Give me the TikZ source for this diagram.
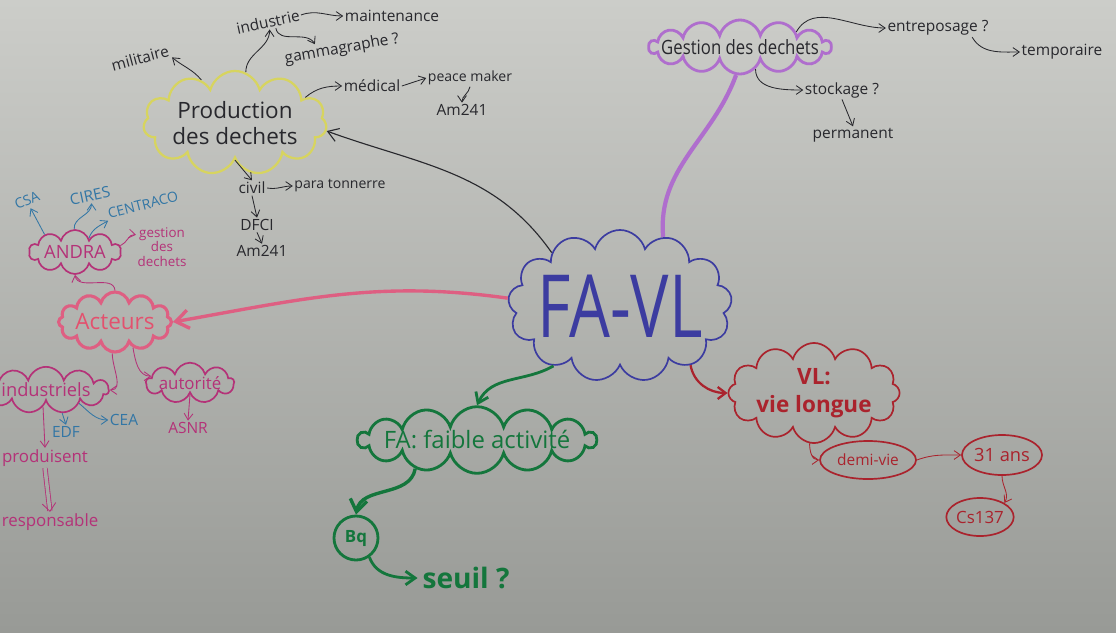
\documentclass[tikz,border=0pt]{standalone}
\usepackage{fontspec}
\setmainfont{Open Sans}
\usetikzlibrary{shapes.symbols,shapes.geometric,arrows.meta}

\definecolor{paperTop}{RGB}{204,205,201}
\definecolor{paperBot}{RGB}{152,154,150}
\definecolor{paperMid}{RGB}{168,170,166}
\definecolor{inkblack}{RGB}{40,40,45}
\definecolor{mainblue}{RGB}{60,60,160}
\definecolor{prodyellow}{RGB}{215,212,95}
\definecolor{gestpurple}{RGB}{175,110,205}
\definecolor{favgreen}{RGB}{20,118,60}
\definecolor{vlred}{RGB}{170,35,45}
\definecolor{actpink}{RGB}{222,95,130}
\definecolor{magink}{RGB}{180,50,120}
\definecolor{ciresblue}{RGB}{50,118,165}

\begin{document}
\begin{tikzpicture}[x=0.025cm, y=-0.025cm,
  cloudbox/.style={cloud, cloud puffs=#1, cloud ignores aspect, draw,
                   line width=1.2pt, inner sep=0pt, align=center},
  cloudbox/.default=11,
  ovalbox/.style={ellipse, draw, line width=1.2pt, inner sep=0pt},
  leaf/.style={font=\fontsize{11}{12}\selectfont, text=inkblack, inner sep=1pt, align=center},
  blueleaf/.style={leaf, text=ciresblue},
  magleaf/.style={leaf, text=magink},
  link/.style={-{Straight Barb[length=1.6mm, width=2.2mm]}, line width=0.6pt, inkblack},
]
  \shade[top color=paperTop, bottom color=paperBot] (0,0) rectangle (1116,632);
  \useasboundingbox (0,0) rectangle (1116,632);

  % centre
  \node[cloudbox=13, draw=mainblue, inner xsep=-7pt, minimum width=5.6cm, minimum height=3.8cm,
        text=mainblue, font=\fontsize{62}{64}\selectfont] (favl) at (620,306)
        {\scalebox{0.74}[1]{FA-VL}};

  % production
  \node[cloudbox, draw=prodyellow, line width=1.6pt, minimum width=4.1cm, minimum height=2.6cm,
        text=inkblack, font=\fontsize{16}{19}\selectfont] (prod) at (235,123) {Production\\des dechets};
  \node[leaf, rotate=15] (mil) at (140,58) {militaire};
  \node[leaf, rotate=12] (indus) at (268,22) {industrie};
  \node[leaf] (maint) at (392,16) {maintenance};
  \node[leaf, rotate=10] (gamma) at (342,49) {gammagraphe ?};
  \node[leaf] (med) at (372,86) {médical};
  \node[leaf, font=\fontsize{10}{12}\selectfont] (peace) at (470,78) {peace maker};
  \node[leaf] (amA) at (462,110) {Am241};
  \node[leaf] (civil) at (252,188) {civil};
  \node[leaf, font=\fontsize{10}{12}\selectfont] (para) at (340,186) {para tonnerre};
  \node[leaf] (dfci) at (257,225) {DFCI};
  \node[leaf] (amB) at (262,251) {Am241};

  \draw[link] (prod.128) to[out=130, in=-40] (mil.south east);
  \draw[link] (prod.78) to[out=90, in=-90] (indus.south);
  \draw[link] (indus.east) to[out=20, in=180] (maint.west);
  \draw[link] (indus.-50) to[out=-80, in=120] (gamma.160);
  \draw[link] (prod.20) to[out=40, in=180] (med.west);
  \draw[link] (med.east) -- (peace.west);
  \draw[link] (peace.south) to[out=-100, in=90] (amA.north);
  \draw[link] (prod.south) -- (civil.north);
  \draw[link] (civil.east) to[out=-10, in=180] (para.west);
  \draw[link] (civil.south) -- (dfci.north);
  \draw[link] (dfci.south) -- (amB.north);
  \draw[link, line width=0.8pt, -{Straight Barb[length=2.6mm, width=3.4mm]}]
    (favl.142) to[out=125, in=-20] (prod.-5);

  % gestion
  \node[cloudbox=14, draw=gestpurple, line width=2pt, inner xsep=-10pt, minimum width=4.3cm,
        minimum height=1.35cm, text=inkblack, font=\fontsize{14}{17}\selectfont] (gest) at (740,47)
        {\scalebox{0.85}[1]{Gestion des dechets}};
  \node[leaf] (entre) at (938,28) {entreposage ?};
  \node[leaf] (temp) at (1062,52) {temporaire};
  \node[leaf] (stock) at (842,90) {stockage ?};
  \node[leaf] (perm) at (853,135) {permanent};

  \draw[link] (gest.15) to[out=60, in=180] (entre.west);
  \draw[link] (entre.-15) to[out=-60, in=180] (temp.west);
  \draw[link] (gest.-55) to[out=-90, in=180] (stock.west);
  \draw[link] (stock.south) -- (perm.north);
  \draw[gestpurple, line width=3pt] (favl.58) to[out=95, in=-110] (gest.-98);

  % acteurs
  \node[cloudbox=12, draw=actpink, line width=2.2pt, minimum width=2.8cm, minimum height=1.5cm,
        text=actpink!85!red, font=\fontsize{16}{19}\selectfont] (act) at (115,322) {Acteurs};
  \node[cloudbox=10, draw=magink, minimum width=2.3cm, minimum height=1.1cm,
        text=magink, font=\fontsize{13}{15}\selectfont] (andra) at (75,252) {ANDRA};
  \node[blueleaf, rotate=22, font=\fontsize{10}{12}\selectfont] (csa) at (27,200) {CSA};
  \node[blueleaf, rotate=12] (cires) at (90,196) {CIRES};
  \node[blueleaf, rotate=14, font=\fontsize{10}{12}\selectfont] (centraco) at (143,205) {CENTRACO};
  \node[magleaf, font=\fontsize{9.5}{10.5}\selectfont] (gdd) at (162,247) {gestion\\des\\dechets};
  \node[cloudbox=11, draw=magink, minimum width=2.75cm, minimum height=1.1cm,
        text=magink, font=\fontsize{13}{15}\selectfont] (indl) at (46,390) {industriels};
  \node[cloudbox=9, draw=magink, minimum width=2cm, minimum height=0.95cm,
        text=magink, font=\fontsize{12}{14}\selectfont] (auto) at (190,383) {autorité};
  \node[blueleaf] (edf) at (66,432) {EDF};
  \node[blueleaf] (cea) at (124,420) {CEA};
  \node[magleaf] (asnr) at (188,428) {ASNR};
  \node[magleaf, font=\fontsize{12}{14}\selectfont] (produ) at (45,458) {produisent};
  \node[magleaf, font=\fontsize{12}{14}\selectfont] (resp) at (50,522) {responsable};

  \draw[link, ciresblue, shorten >=1.5pt] (andra.150) -- (csa.south);
  \draw[link, ciresblue] (andra.92) to[out=95, in=-90] (cires.south);
  \draw[link, ciresblue] (andra.45) to[out=70, in=-150] (centraco.south west);
  \draw[link, magink] (andra.8) to[out=20, in=170] (gdd.155);
  \draw[link, magink] (act.north) to[out=95, in=-80] (andra.south);
  \draw[link, magink] (act.-95) to[out=-90, in=0] (indl.east);
  \draw[link, magink] (act.-55) to[out=-80, in=180] (auto.170);
  \draw[link, ciresblue] (indl.-55) -- (edf.north);
  \draw[link, ciresblue] (indl.-22) to[out=-40, in=180] (cea.west);
  \draw[link, magink] (auto.south) -- (asnr.north);
  \draw[link, magink] (indl.-100) -- (produ.north);
  \draw[magink, line width=0.6pt, double=paperMid, double distance=2.5pt,
        -{Straight Barb[length=2mm, width=3.4mm]}] (produ.south) -- (resp.north);
  \draw[actpink, line width=2.4pt, -{Straight Barb[length=3.2mm, width=4.6mm]}]
    (favl.176) to[out=172, in=10] (act.east);

  % faible activite
  \node[cloudbox=14, draw=favgreen, line width=2pt, inner xsep=-6pt, minimum width=5.9cm,
        minimum height=1.4cm, text=favgreen, font=\fontsize{17}{20}\selectfont] (fa) at (477,440)
        {FA: faible activité};
  \node[circle, draw=favgreen, line width=2pt, minimum size=1.1cm, inner sep=0pt,
        text=favgreen, font=\fontsize{12}{14}\selectfont\bfseries] (bq) at (356,538) {Bq};
  \node[text=favgreen, font=\fontsize{20}{24}\selectfont\bfseries] (seuil) at (466,578) {seuil ?};

  \draw[favgreen, line width=2pt, -{Straight Barb[length=2.4mm, width=3.4mm]}]
    (favl.222) to[out=210, in=65] (fa.north);
  \draw[favgreen, line width=2.4pt, -{Straight Barb[length=3mm, width=4.2mm]}]
    (fa.205) to[out=-100, in=80] (bq.north);
  \draw[favgreen, line width=2pt, -{Straight Barb[length=2.4mm, width=3.4mm]}]
    (bq.-55) to[out=-70, in=180] (seuil.west);

  % vie longue
  \node[cloudbox=12, draw=vlred, minimum width=3cm, minimum height=2cm,
        text=vlred, font=\fontsize{16}{20}\selectfont\bfseries] (vl) at (814,393) {VL:\\vie longue};
  \node[ovalbox, draw=vlred, minimum width=2.4cm, minimum height=0.95cm,
        text=vlred, font=\fontsize{11}{13}\selectfont] (demi) at (868,460) {demi-vie};
  \node[ovalbox, draw=vlred, minimum width=2cm, minimum height=1cm,
        text=vlred, font=\fontsize{13}{15}\selectfont] (ans) at (1002,455) {31 ans};
  \node[ovalbox, draw=vlred, minimum width=1.65cm, minimum height=0.95cm,
        text=vlred, font=\fontsize{12}{14}\selectfont] (cs) at (980,517) {Cs137};

  \draw[vlred, line width=1.6pt, -{Straight Barb[length=2mm, width=3mm]}]
    (favl.-40) to[out=-80, in=180] (vl.west);
  \draw[link, vlred] (vl.-95) to[out=-90, in=180] (demi.west);
  \draw[link, vlred] (demi.east) to[out=20, in=180] (ans.west);
  \draw[link, vlred] (ans.south) to[out=-90, in=60] (cs.north east);
\end{tikzpicture}
\end{document}
